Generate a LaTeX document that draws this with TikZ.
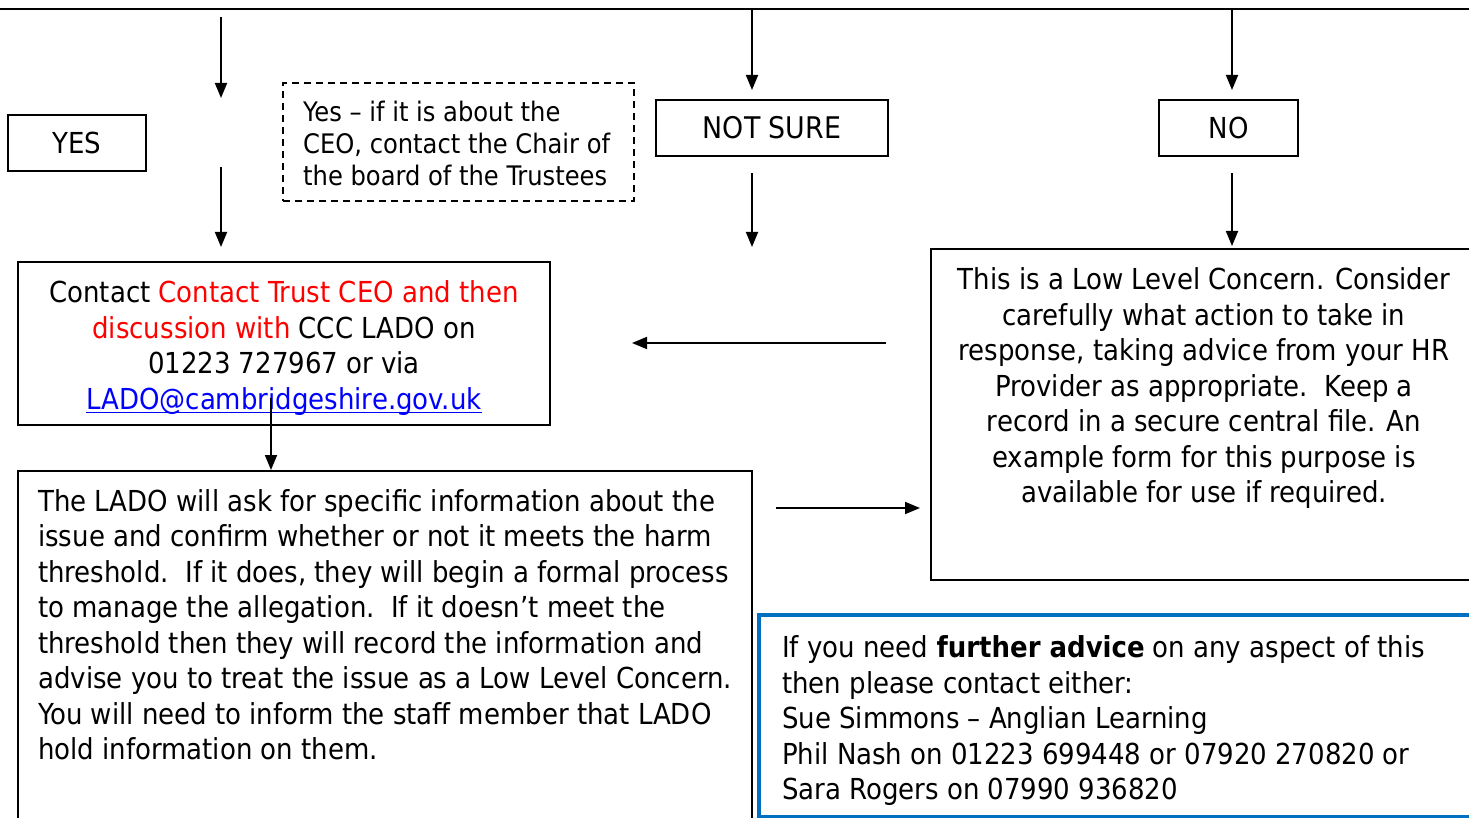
\documentclass[tikz,border=0pt]{standalone}
\usepackage{fontspec}
\IfFontExistsTF{DejaVu Sans Condensed}{\setmainfont{DejaVu Sans Condensed}}{\setmainfont{DejaVu Sans}[FakeStretch=0.9]}
\usetikzlibrary{arrows.meta}
\definecolor{linkblue}{HTML}{0000FF}
\definecolor{boxblue}{HTML}{0070C0}
\definecolor{txtred}{HTML}{FF0000}
\newlength\ulw
\newcommand\myul[1]{\settowidth\ulw{#1}\rlap{\rule[-4pt]{\ulw}{1.6pt}}#1}
\tikzset{
  box/.style={draw, line width=2pt, inner sep=0pt, rectangle},
  dbox/.style={draw, line width=1.6pt, dash pattern=on 7pt off 5pt, inner sep=0pt, rectangle},
  bbox/.style={draw=boxblue, line width=3.5pt, inner sep=0pt, rectangle},
  arr/.style={line width=1.8pt, -{Triangle[length=15pt,width=12pt]}},
  maintxt/.style={inner sep=0pt, font=\fontsize{28.9}{35.5}\selectfont},
  smalltxt/.style={inner sep=0pt, font=\fontsize{26.9}{32}\selectfont},
}
\begin{document}
\begin{tikzpicture}[x=1pt,y=-1pt]
\useasboundingbox (0,0) rectangle (1469,818);
\clip (0,0) rectangle (1469,818);
% top rule
\coordinate (tl) at (0,9);
\coordinate (tr) at (1469,9);
\draw[line width=2.6pt] (tl) -- (tr);
% small boxes
\node[box, minimum width=138, minimum height=56, maintxt] (yes) at (77,143) {YES};
\node[box, minimum width=232, minimum height=56, maintxt, font=\fontsize{29.8}{35.5}\selectfont] (notsure) at (772,128) {NOT SURE};
\node[box, minimum width=139, minimum height=56, maintxt] (no) at (1228.5,128) {NO};
\node[dbox, minimum width=351, minimum height=118] (ceo) at (458.5,142) {};
\node[smalltxt, anchor=north west, align=left] (ceotxt) at (303,101) {Yes – if it is about the\\CEO, contact the Chair of\\the board of the Trustees};
% large boxes
\node[box, minimum width=532, minimum height=163] (contact) at (284,343.5) {};
\node[maintxt, anchor=north, align=center] (contacttxt) at (284,280.5) {Contact \textcolor{txtred}{Contact Trust CEO and then}\\\textcolor{txtred}{discussion with} CCC LADO on\\01223 727967 or via\\\textcolor{linkblue}{\myul{LADO@cambridgeshire.gov.uk}}};
\node[box, minimum width=734, minimum height=379] (lado) at (385,660.5) {};
\node[maintxt, anchor=north west, align=left] (ladotxt) at (38,489) {The LADO will ask for specific information about the\\issue and confirm whether or not it meets the harm\\threshold.\ \ If it does, they will begin a formal process\\to manage the allegation.\ \ If it doesn’t meet the\\threshold then they will record the information and\\advise you to treat the issue as a Low Level Concern.\\You will need to inform the staff member that LADO\\hold information on them.};
\node[box, minimum width=559, minimum height=331] (low) at (1210.5,414.5) {};
\node[maintxt, anchor=north, align=center] (lowtxt) at (1204,267.5) {This is a Low Level Concern. Consider\\carefully what action to take in\\response, taking advice from your HR\\Provider as appropriate.\ \ Keep a\\record in a secure central file. An\\example form for this purpose is\\available for use if required.};
\node[bbox, minimum width=731, minimum height=202] (advice) at (1124.5,716) {};
\node[maintxt, anchor=north west, align=left] (advicetxt) at (782,635.5) {If you need \textbf{further advice} on any aspect of this\\then please contact either:\\Sue Simmons – Anglian Learning\\Phil Nash on 01223 699448 or 07920 270820 or\\Sara Rogers on 07990 936820};
% arrow end points
\coordinate (a1s) at (221,17);   \coordinate (a1e) at (221,98);
\coordinate (a2s) at (221,167);  \coordinate (a2e) at (221,247);
\coordinate (n1s) at (752,9);    \coordinate (n1e) at (752,90);
\coordinate (o1s) at (1232,9);   \coordinate (o1e) at (1232,90);
\coordinate (n2s) at (752,173);  \coordinate (n2e) at (752,247);
\coordinate (o2s) at (1232,173); \coordinate (o2e) at (1232,246);
\coordinate (hls) at (886,343);  \coordinate (hle) at (632,343);
\coordinate (hrs) at (776,508);  \coordinate (hre) at (920,508);
\coordinate (ls) at (271,398);   \coordinate (le) at (271,470);
\draw[arr] (a1s) -- (a1e);
\draw[arr] (a2s) -- (a2e);
\draw[arr] (n1s) -- (n1e);
\draw[arr] (o1s) -- (o1e);
\draw[arr] (n2s) -- (n2e);
\draw[arr] (o2s) -- (o2e);
\draw[arr] (hls) -- (hle);
\draw[arr] (hrs) -- (hre);
\draw[arr] (ls) -- (le);
\end{tikzpicture}
\end{document}
